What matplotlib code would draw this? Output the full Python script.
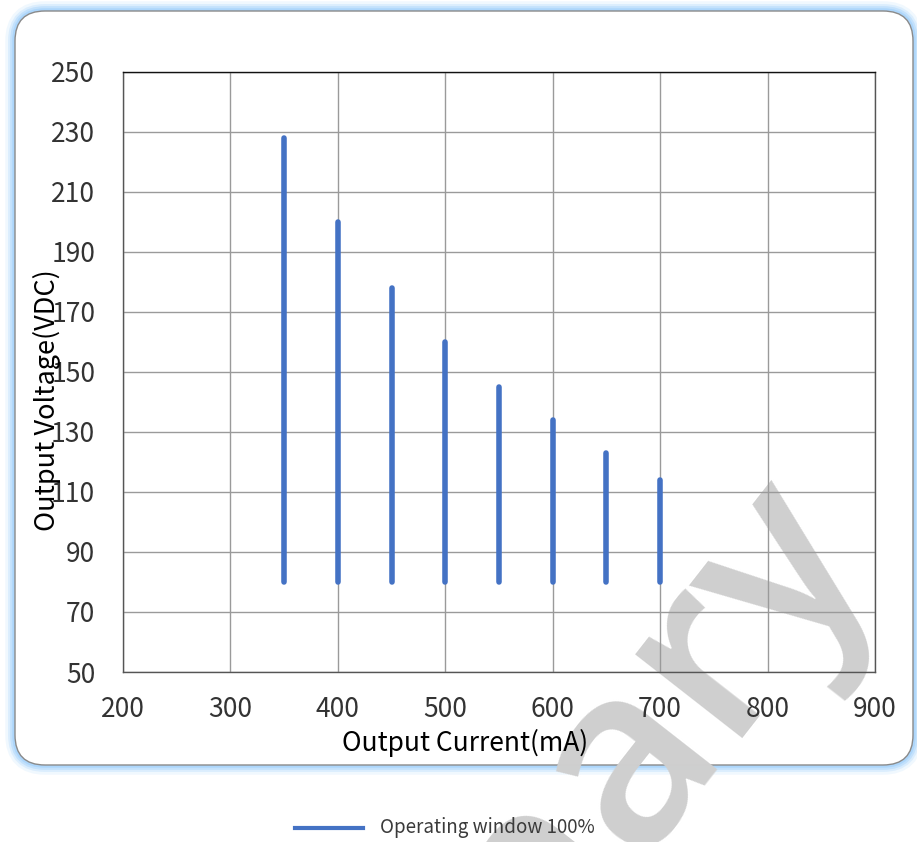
import matplotlib
matplotlib.use('Agg')
import matplotlib.pyplot as plt
from matplotlib.patches import FancyBboxPatch
from matplotlib.lines import Line2D

# operating window data
current_ma = [350, 400, 450, 500, 550, 600, 650, 700]
v_min = [80, 80, 80, 80, 80, 80, 80, 80]
v_max = [228, 200, 178, 160, 145, 134, 123, 114]

x_ticks = [200, 300, 400, 500, 600, 700, 800, 900]
y_ticks = [50, 70, 90, 110, 130, 150, 170, 190, 210, 230, 250]

line_color = '#4472C4'
font = ['Noto Sans CJK SC', 'DejaVu Sans']
plt.rcParams['font.family'] = font

fig = plt.figure(figsize=(9.17, 8.42), dpi=100)
fig.patch.set_facecolor('white')

# rounded frame with blue glow (inch coords)
x0, y0, w, h = 0.15, 0.77, 8.98, 7.54
for lw, a in [(14, 0.15), (10, 0.25), (7, 0.4), (4, 0.6)]:
    glow = FancyBboxPatch((x0, y0), w, h, boxstyle='round,pad=0,rounding_size=0.3',
                          transform=fig.dpi_scale_trans, facecolor='none',
                          edgecolor='#9fd0fb', linewidth=lw, alpha=a, zorder=0)
    fig.patches.append(glow)
frame = FancyBboxPatch((x0, y0), w, h, boxstyle='round,pad=0,rounding_size=0.3',
                       transform=fig.dpi_scale_trans, facecolor='white',
                       edgecolor='#8a8a8a', linewidth=1.0, zorder=0.5)
fig.patches.append(frame)

# watermark sits under the chart
fig.text(0.949, 0.354, 'Preliminary', ha='right', va='baseline', rotation=52,
         rotation_mode='anchor', fontsize=180, color='#cfcfcf',
         family='Open Sans', fontweight='semibold', zorder=1)

ax = fig.add_axes([0.1341, 0.2019, 0.8201, 0.7126])
ax.set_zorder(2)
ax.set_facecolor('none')
ax.vlines(current_ma, v_min, v_max, colors=line_color, linewidth=4, capstyle='round', zorder=3)

ax.set_xlim(200, 900)
ax.set_ylim(50, 250)
ax.set_xticks(x_ticks)
ax.set_yticks(y_ticks)
ax.grid(True, color='#9a9a9a', linewidth=1.0)
ax.set_axisbelow(True)
for s in ax.spines.values():
    s.set_color('#555555')
    s.set_linewidth(1.0)
ax.spines['top'].set_color('#111111')
ax.tick_params(length=0, labelsize=19, labelcolor='#333333', pad=17)
ax.tick_params(axis='y', pad=20)

fig.text(0.507, 0.1175, 'Output Current(mA)', ha='center', va='center', fontsize=19, zorder=5)
fig.text(0.051, 0.525, 'Output Voltage(VDC)', ha='center', va='center', fontsize=19.5,
         rotation=90, zorder=5)

# legend below the frame
leg = Line2D([2.95, 3.63], [0.14, 0.14], color=line_color, linewidth=3,
             transform=fig.dpi_scale_trans, zorder=5)
fig.lines.append(leg)
fig.text(3.80 / 9.17, 0.14 / 8.42, 'Operating window 100%', ha='left', va='center',
         fontsize=13.5, color='#3a3a3a', zorder=5)

fig.savefig('out.png', dpi=100)
